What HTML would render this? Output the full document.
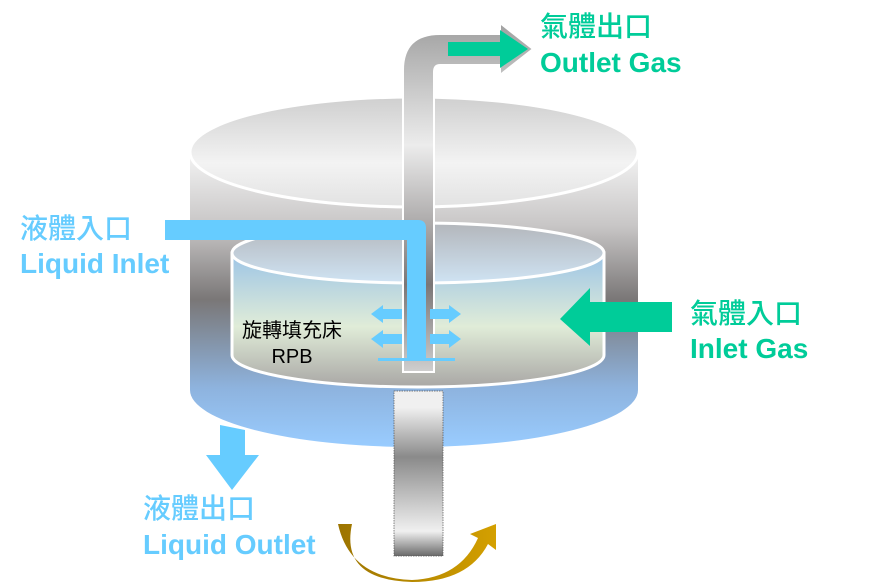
<!DOCTYPE html>
<html><head><meta charset="utf-8"><style>
body{margin:0;background:#fff}
svg{display:block}
.t{font-family:"Liberation Sans","Noto Sans CJK TC",sans-serif;font-weight:bold}
.c{font-weight:500}
</style></head><body>
<svg width="887" height="582" viewBox="0 0 887 582" xmlns="http://www.w3.org/2000/svg">
<defs>
<linearGradient id="ob" x1="0" y1="0" x2="0" y2="1">
<stop offset="0" stop-color="#f4f4f4"/><stop offset="0.25" stop-color="#c8c6c6"/><stop offset="0.5" stop-color="#7a7777"/><stop offset="0.8" stop-color="#8eb3de"/><stop offset="1" stop-color="#99ccff"/>
</linearGradient>
<linearGradient id="ot" x1="0" y1="0" x2="0" y2="1">
<stop offset="0" stop-color="#cfcfcf"/><stop offset="0.6" stop-color="#f3f3f3"/><stop offset="1" stop-color="#e2e2e2"/>
</linearGradient>
<linearGradient id="ib" x1="0" y1="0" x2="0" y2="1">
<stop offset="0" stop-color="#9cc4e6"/><stop offset="0.55" stop-color="#e0ecd8"/><stop offset="1" stop-color="#a9a7a5"/>
</linearGradient>
<linearGradient id="it" x1="0" y1="0" x2="0" y2="1">
<stop offset="0" stop-color="#b3b6bb"/><stop offset="1" stop-color="#cfe3f3"/>
</linearGradient>
<linearGradient id="pv" x1="0" y1="0" x2="0" y2="1">
<stop offset="0" stop-color="#a0a0a0"/><stop offset="0.35" stop-color="#ececec"/><stop offset="0.75" stop-color="#7a7676"/><stop offset="1" stop-color="#cfcfcf"/>
</linearGradient>
<linearGradient id="sh" x1="0" y1="0" x2="0" y2="1">
<stop offset="0" stop-color="#f0f0f0"/><stop offset="0.1" stop-color="#f0f0f0"/><stop offset="0.4" stop-color="#8a8a8a"/><stop offset="0.85" stop-color="#f0f0f0"/><stop offset="1" stop-color="#6a6a6a"/>
</linearGradient>
<linearGradient id="gd" x1="0" y1="0" x2="1" y2="0">
<stop offset="0" stop-color="#9c7400"/><stop offset="1" stop-color="#d4a000"/>
</linearGradient>
</defs>
<path d="M190 152 V390 A224 57 0 0 0 638 390 V152 Z" fill="url(#ob)"/>
<ellipse cx="414" cy="152" rx="224" ry="55" fill="url(#ot)" stroke="#fff" stroke-width="3"/>
<path d="M232 253 V355 A186 32 0 0 0 604 355 V253 Z" fill="url(#ib)" stroke="#fff" stroke-width="3"/>
<ellipse cx="418" cy="253" rx="186" ry="30" fill="url(#it)" stroke="#fff" stroke-width="3"/>
<path d="M403 372 V70 Q403 34 440 34 H500 V23 L533 49 L500 75 V65 H440 Q434 65 434 72 V372 Z" fill="url(#pv)" stroke="#fff" stroke-width="2"/>
<path d="M448 42 H500 V30 L528 49 L500 68 V56 H448 Z" fill="#00cc99"/>
<path d="M165 220 H418 Q426 220 426 228 V360 H407 V240 H165 Z" fill="#66ccff"/>
<rect x="378" y="358" width="77" height="3" fill="#66ccff"/>
<g fill="#66ccff">
<path d="M402 309 H383 V305 L371 314 L383 323 V319 H402 Z"/>
<path d="M402 334 H383 V330 L371 339 L383 348 V344 H402 Z"/>
<path d="M430 309 H449 V305 L461 314 L449 323 V319 H430 Z"/>
<path d="M430 334 H449 V330 L461 339 L449 348 V344 H430 Z"/>
</g>
<path d="M560 319 L590 288 V302 H672 V332 H590 V346 Z" fill="#00cc99"/>
<path d="M220 425 L245 430 V455 H259 L232 490 L206 455 H220 Z" fill="#66ccff"/>
<rect x="394" y="391" width="49" height="165" fill="url(#sh)" stroke="#555" stroke-width="0.7" stroke-dasharray="1.5 1"/>
<path d="M338 524 Q350 578 412 580 Q460 578 478 538 L470 534 L496 524 L496 550 L488 544 Q468 582 412 582 Q340 580 352 524 Z" fill="url(#gd)"/>
<g class="t" fill="#00cc99">
<text class="c" x="540" y="36" font-size="28">氣體出口</text>
<text x="540" y="72" font-size="28">Outlet Gas</text>
<text class="c" x="690" y="323" font-size="28">氣體入口</text>
<text x="690" y="358" font-size="28">Inlet Gas</text>
</g>
<g class="t" fill="#66ccff">
<text class="c" x="20" y="238" font-size="28">液體入口</text>
<text x="20" y="273" font-size="28">Liquid Inlet</text>
<text class="c" x="143" y="518" font-size="28">液體出口</text>
<text x="143" y="554" font-size="28">Liquid Outlet</text>
</g>
<text x="292" y="337" font-size="20" text-anchor="middle" font-family="Liberation Sans,'Noto Sans CJK TC',sans-serif" fill="#000">旋轉填充床</text>
<text x="292" y="363" font-size="20" text-anchor="middle" font-family="Liberation Sans,'Noto Sans CJK TC',sans-serif" fill="#000">RPB</text>
</svg>
</body></html>
